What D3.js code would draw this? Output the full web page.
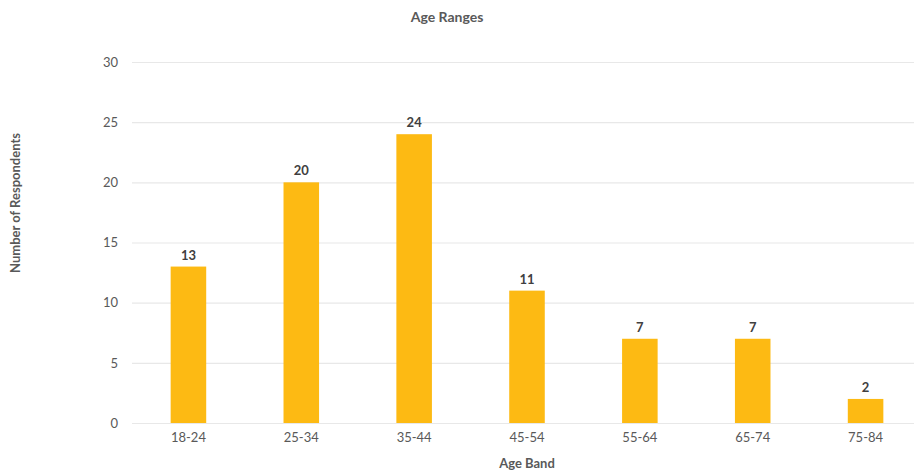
<!DOCTYPE html>
<html>
<head>
<meta charset="utf-8">
<script src="https://cdn.jsdelivr.net/npm/d3@7"></script>
<style>
  html, body { margin: 0; padding: 0; background: #fff; }
  svg { display: block; font-family: Lato, "Open Sans", sans-serif; }
</style>
</head>
<body>
<svg id="chart" width="914" height="471"></svg>
<script>
const categories = ["18-24", "25-34", "35-44", "45-54", "55-64", "65-74", "75-84"];
const respondents = [13, 20, 24, 11, 7, 7, 2];
const yTicks = [0, 5, 10, 15, 20, 25, 30];
const chartTitle = "Age Ranges";
const xTitle = "Age Band";
const yTitle = "Number of Respondents";

const svg = d3.select("#chart");
const W = 914, H = 471;
const plot = { left: 132, right: 922, top: 62, bottom: 423 };

const x = d3.scaleBand()
  .domain(categories)
  .range([plot.left, plot.right])
  .paddingInner(0.685)
  .paddingOuter(0.3425);

const y = d3.scaleLinear().domain([0, 30]).range([plot.bottom, plot.top]);

// gridlines
svg.append("g")
  .selectAll("line")
  .data(yTicks)
  .join("line")
  .attr("x1", plot.left)
  .attr("x2", plot.right)
  .attr("y1", d => y(d) + 0.5)
  .attr("y2", d => y(d) + 0.5)
  .attr("stroke", "#e8e8e8")
  .attr("stroke-width", 1.2);

// y axis labels
const yAxis = d3.axisLeft(y).tickValues(yTicks).tickSize(0).tickPadding(0);
const yg = svg.append("g")
  .attr("transform", `translate(${plot.left - 14},0)`)
  .call(yAxis);
yg.select(".domain").remove();
yg.selectAll("text")
  .attr("fill", "#595959")
  .style("font-size", "13px")
  .style("font-family", "Lato, sans-serif");

// x axis labels
const xAxis = d3.axisBottom(x).tickSize(0).tickPadding(0);
const xg = svg.append("g")
  .attr("transform", `translate(0,${plot.bottom + 10})`)
  .call(xAxis);
xg.select(".domain").remove();
xg.selectAll("text")
  .attr("fill", "#595959")
  .style("font-size", "13px")
  .style("font-family", "Lato, sans-serif");

// bars
svg.append("g")
  .selectAll("rect")
  .data(respondents)
  .join("rect")
  .attr("x", (d, i) => x(categories[i]))
  .attr("width", x.bandwidth())
  .attr("y", d => y(d))
  .attr("height", d => y(0) - y(d))
  .attr("fill", "#fdba13");

// value labels
svg.append("g")
  .selectAll("text")
  .data(respondents)
  .join("text")
  .attr("x", (d, i) => x(categories[i]) + x.bandwidth() / 2)
  .attr("y", d => y(d) - 7)
  .attr("text-anchor", "middle")
  .attr("fill", "#404040")
  .style("font-size", "13px")
  .style("font-weight", "bold")
  .text(d => d);

// titles
svg.append("text")
  .attr("x", 447)
  .attr("y", 22)
  .attr("text-anchor", "middle")
  .attr("fill", "#595959")
  .style("font-size", "14px")
  .style("font-weight", "bold")
  .text(chartTitle);

svg.append("text")
  .attr("x", (plot.left + plot.right) / 2)
  .attr("y", 468)
  .attr("text-anchor", "middle")
  .attr("fill", "#595959")
  .style("font-size", "13px")
  .style("font-weight", "bold")
  .text(xTitle);

svg.append("text")
  .attr("transform", "translate(20,203) rotate(-90)")
  .attr("text-anchor", "middle")
  .attr("fill", "#595959")
  .style("font-size", "13px")
  .style("font-weight", "bold")
  .text(yTitle);
</script>
</body>
</html>
